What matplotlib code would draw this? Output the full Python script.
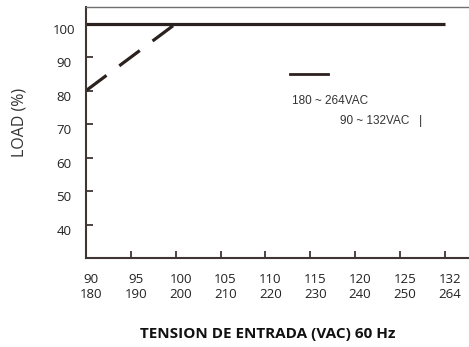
import numpy as np
import matplotlib
matplotlib.use('Agg')
import matplotlib.pyplot as plt
from matplotlib.transforms import ScaledTranslation

# datos de la grafica
volt_low = [90, 95, 100, 105, 110, 115, 120, 125, 132]
volt_high = [180, 190, 200, 210, 220, 230, 240, 250, 264]
load_ticks = [40, 50, 60, 70, 80, 90, 100]

# 180~264VAC: 100% en todo el rango
high_v = [90, 132]
high_load = [100, 100]
# 90~132VAC: derating de 80% a 100%
low_v = [90, 100]
low_load = [80, 100]

line_col = '#2b211f'
axis_col = '#3f3634'
font = 'Open Sans'

fig = plt.figure(figsize=(4.69, 3.47), dpi=100)
ax = fig.add_axes([86 / 469, 89 / 347, 1 - 86 / 469 + 0.002, 251 / 347])

pos = np.arange(len(volt_low))
pos_of = lambda vals: [volt_low.index(v) for v in vals]

ax.plot(pos_of(high_v), high_load, color=line_col, lw=2.3, solid_capstyle='butt')
ax.plot(pos_of(low_v), low_load, color=line_col, lw=2.3, dashes=(8, 5),
        dash_capstyle='butt')

ax.set_xlim(0, 8.56)
ax.set_ylim(30, 105)

ax.set_xticks(pos)
ax.set_xticklabels(['%d\n%d' % (a, b) for a, b in zip(volt_low, volt_high)],
                   fontsize=9.5, family=font, linespacing=1.15, color='#222222')
ax.set_yticks(load_ticks)
ax.set_yticklabels([str(v) for v in load_ticks], fontsize=9.5, family=font,
                   color='#222222', ha='center')

ax.tick_params(axis='x', direction='in', length=5, width=1.3, color=axis_col, pad=11)
ax.tick_params(axis='y', direction='in', length=5, width=1.3, color=axis_col, pad=16)

# desplazar etiquetas como en el original
for lab in ax.get_xticklabels():
    lab.set_transform(lab.get_transform() + ScaledTranslation(0.05, 0, fig.dpi_scale_trans))
for lab in ax.get_yticklabels():
    lab.set_transform(lab.get_transform() + ScaledTranslation(0, -0.05, fig.dpi_scale_trans))

ax.spines['right'].set_visible(False)
ax.spines['left'].set_color(axis_col)
ax.spines['bottom'].set_color(axis_col)
ax.spines['left'].set_linewidth(1.5)
ax.spines['bottom'].set_linewidth(1.5)
ax.spines['top'].set_color('#707070')
ax.spines['top'].set_linewidth(1.0)

# leyenda
xt = ax.get_xaxis_transform()
ax.plot([4.55, 5.4], [0.733, 0.733], transform=xt, color=line_col, lw=2.0, clip_on=False)
leg_font = ['Liberation Sans Narrow', 'Liberation Sans', 'DejaVu Sans']
ax.text(4.6, 0.625, '180 ~ 264VAC', transform=xt,
        fontsize=8.5, family=leg_font, color='#333333', va='center')
ax.text(5.67, 0.546, '90 ~ 132VAC   |', transform=xt,
        fontsize=8.5, family=leg_font, color='#333333', va='center')

fig.text(20 / 469, 1 - 122 / 347, 'LOAD (%)', rotation=90, ha='center', va='center',
         fontsize=11.5, family=font, color='#333333')
fig.text(268 / 469, 1 - 334 / 347, 'TENSION DE ENTRADA (VAC) 60 Hz', ha='center',
         va='center', fontsize=11, family=font, weight='bold', color='#111111')

fig.savefig('out.png', dpi=100)
